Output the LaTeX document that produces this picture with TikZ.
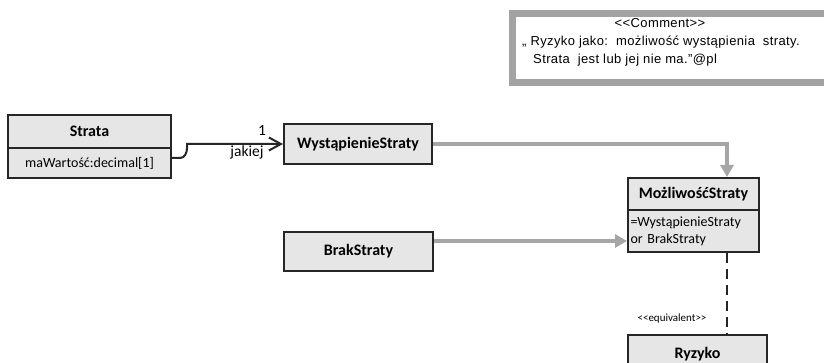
\documentclass[tikz,border=0pt]{standalone}
\usepackage{fontspec}
\setmainfont{Carlito}
\newfontfamily\arialf[LetterSpace=3]{Liberation Sans}
\usetikzlibrary{arrows.meta,calc}
\definecolor{boxfill}{HTML}{E6E6E6}
\definecolor{boxline}{HTML}{262626}
\definecolor{arrowgray}{HTML}{A6A6A6}
\definecolor{commentgray}{HTML}{A3A3A3}
\begin{document}
\begin{tikzpicture}[x=1pt,y=-1pt,
  umlbox/.style={draw=boxline, fill=boxfill, line width=2pt, inner sep=0pt, anchor=north west,
    font=\fontsize{16}{18}\selectfont\bfseries},
  umlattr/.style={draw=boxline, fill=boxfill, line width=2pt, inner sep=0pt, anchor=north west,
    font=\fontsize{14}{16}\selectfont},
  grayarrow/.style={draw=arrowgray, line width=4pt, -{Triangle[length=12pt,width=13pt]}},
  assoc/.style={draw=boxline, line width=2pt, -{Straight Barb[length=12pt,width=13pt]}},
  commenttext/.style={font=\arialf\fontsize{13}{14}\selectfont, inner sep=0pt},
  lbl/.style={font=\fontsize{15.5}{17}\selectfont, inner sep=0pt},
  smalllbl/.style={font=\fontsize{11}{12}\selectfont, inner sep=0pt}
]
\clip (0,0) rectangle (824,363);
\useasboundingbox (0,0) rectangle (824,363);

% comment box
\node[draw=commentgray, line width=7pt, fill=white, minimum width=330pt, minimum height=69pt,
  anchor=north west, inner sep=0pt] (comment) at (508.5,10.5) {};
\node[commenttext] (c1) at (660,23) {<{}<Comment>{}>};
\node[commenttext, anchor=west] (c2) at (522,42) {„ Ryzyko jako:\ \ możliwość wystąpienia\ \ straty.};
\node[commenttext, anchor=west] (c3) at (533,60) {Strata\ \ jest lub jej nie ma.”@pl};

% boxes
\node[umlbox, minimum width=163pt, minimum height=33pt] (strata) at (7,114) {Strata};
\node[umlattr, minimum width=163pt, minimum height=30pt] (strataattr) at (7,147) {maWartość:decimal[1]};
\node[umlbox, minimum width=148pt, minimum height=40pt] (wyst) at (283,123) {WystąpienieStraty};
\node[umlbox, minimum width=131pt, minimum height=32pt] (mozl) at (627,177) {MożliwośćStraty};
\node[umlattr, text width=126pt, inner xsep=2.5pt, minimum height=42pt, align=left,
  font=\fontsize{14}{17}\selectfont] (mozlattr) at (627,209) {=WystąpienieStraty\\or BrakStraty};
\node[umlbox, minimum width=149pt, minimum height=39pt] (brak) at (283,231) {BrakStraty};
\node[umlbox, minimum width=139pt, minimum height=38pt] (ryzyko) at (627,334) {Ryzyko};

% association
\coordinate (a0) at ($(strataattr.north east)+(0,11)$);
\coordinate (a1) at (187,148);
\draw[assoc] (a0) -- ++(8,0) to[out=0,in=-90] (a1) -- (a1 |- wyst.west) -- (wyst.west);
\node[lbl] (one) at (262,131) {1};
\node[lbl] (jakiej) at (247,152) {jakiej};

% gray arrows
\coordinate (mtop) at ($(mozl.north west)+(100,0)$);
\draw[grayarrow] (wyst.east) -| (mtop);
\coordinate (bstart) at ($(brak.north east)+(0,10)$);
\draw[grayarrow] (bstart) -- (bstart -| mozlattr.west);

% equivalent
\coordinate (mbot) at ($(mozlattr.south west)+(100,0)$);
\draw[boxline, line width=2.6pt, dash pattern=on 10pt off 6pt] (mbot) -- (mbot |- ryzyko.north);
\node[smalllbl] (equiv) at (672,319) {<{}<equivalent>{}>};
\end{tikzpicture}
\end{document}
